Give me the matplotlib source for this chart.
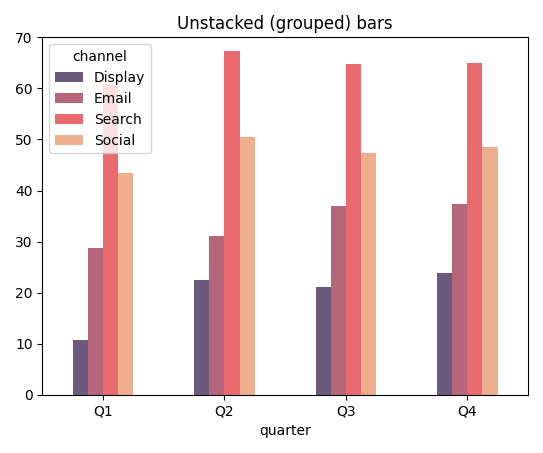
import pandas as pd
import matplotlib.pyplot as plt

quarters = ["Q1", "Q2", "Q3", "Q4"]
display = [10.7, 22.4, 21.1, 23.8]
email = [28.7, 31.0, 36.9, 37.3]
search = [60.8, 67.3, 64.7, 65.0]
social = [43.4, 50.4, 47.3, 48.6]

df = pd.DataFrame({"Display": display, "Email": email, "Search": search, "Social": social},
                  index=pd.Index(quarters, name="quarter"))
df.columns.name = "channel"

colors = ["#6b5a7b", "#b5667a", "#e86a6e", "#ecae8c"]

fig, ax = plt.subplots(figsize=(5.43, 4.53), dpi=100)
df.plot.bar(ax=ax, color=colors, rot=0)
ax.set_title("Unstacked (grouped) bars")
ax.set_ylim(0, 70)
plt.tight_layout()
plt.savefig("out.png")
